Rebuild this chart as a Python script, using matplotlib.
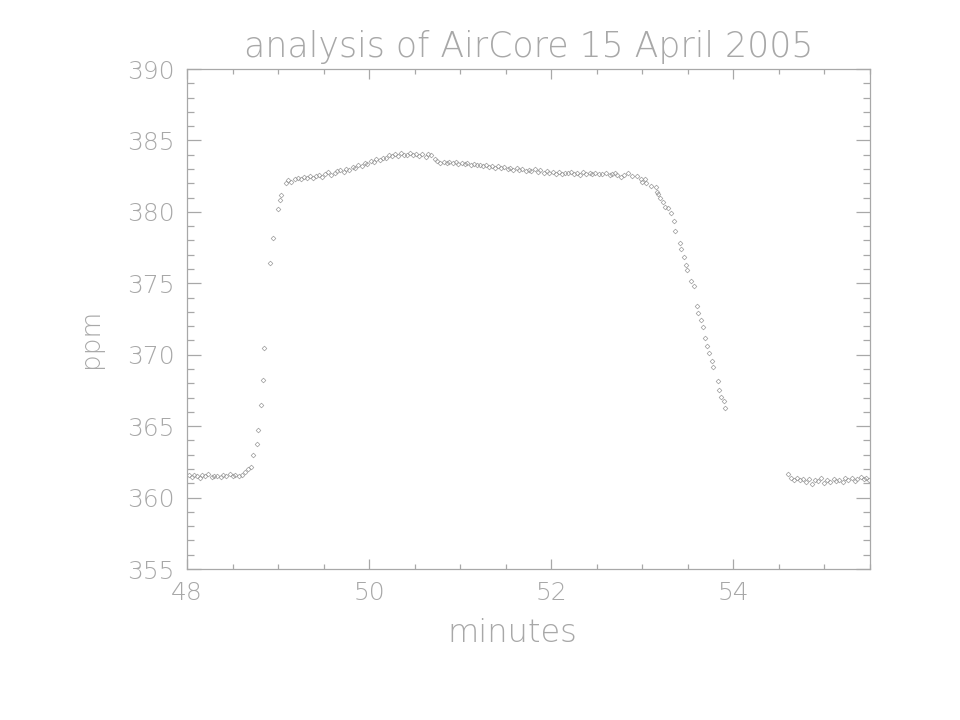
import matplotlib
matplotlib.use("Agg")
import matplotlib.pyplot as plt
from matplotlib.ticker import MultipleLocator

# ---- data (minutes, ppm) ----
base1_x = [48.02, 48.05, 48.08, 48.11, 48.14, 48.17, 48.20, 48.23, 48.27, 48.30,
           48.33, 48.37, 48.40, 48.43, 48.47, 48.50, 48.53, 48.57]
base1_y = [361.55, 361.42, 361.60, 361.48, 361.38, 361.55, 361.50, 361.62, 361.47, 361.52,
           361.50, 361.44, 361.56, 361.48, 361.62, 361.52, 361.58, 361.50]

rise_x = [48.600, 48.636, 48.665, 48.700, 48.727, 48.764, 48.781, 48.814, 48.830, 48.844,
          48.913, 48.946, 48.997, 49.016, 49.030, 49.082, 49.110, 49.147, 49.184, 49.220]
rise_y = [361.58, 361.77, 361.98, 362.16, 362.98, 363.75, 364.73, 366.48, 368.23, 370.45,
          376.44, 378.15, 380.18, 380.83, 381.18, 382.00, 382.23, 382.11, 382.30, 382.35]

plat_x = [49.25, 49.28, 49.32, 49.35, 49.38, 49.42, 49.45, 49.48, 49.52, 49.55,
          49.58, 49.62, 49.65, 49.68, 49.72, 49.75, 49.78, 49.82, 49.85, 49.88,
          49.92, 49.95, 49.98, 50.02, 50.05, 50.08, 50.12, 50.15, 50.18, 50.22,
          50.25, 50.28, 50.32, 50.35, 50.38, 50.42, 50.45, 50.48, 50.52, 50.55,
          50.58, 50.62, 50.65, 50.68, 50.72, 50.75, 50.78, 50.82, 50.85, 50.88,
          50.92, 50.95, 50.98, 51.02, 51.05, 51.08, 51.12, 51.15, 51.18, 51.22,
          51.25, 51.28, 51.32, 51.35, 51.38, 51.42, 51.45, 51.48, 51.52, 51.55,
          51.58, 51.62, 51.65, 51.68, 51.72, 51.75, 51.78, 51.82, 51.85, 51.88,
          51.92, 51.95, 51.98, 52.02, 52.05, 52.08, 52.12, 52.15, 52.18, 52.22,
          52.25, 52.28, 52.32, 52.35, 52.38, 52.42, 52.45, 52.48, 52.52]
plat_y = [382.30, 382.45, 382.38, 382.52, 382.40, 382.50, 382.58, 382.45, 382.62, 382.78,
          382.55, 382.70, 382.85, 382.92, 382.80, 383.00, 382.95, 383.15, 383.05, 383.25,
          383.20, 383.40, 383.35, 383.55, 383.50, 383.68, 383.62, 383.80, 383.75, 383.95,
          383.88, 384.05, 383.92, 384.10, 384.00, 383.95, 384.12, 383.98, 384.05, 383.90,
          384.08, 383.85, 384.02, 383.95, 383.70, 383.55, 383.45, 383.52, 383.40, 383.48,
          383.42, 383.50, 383.38, 383.45, 383.35, 383.40, 383.28, 383.35, 383.25, 383.30,
          383.20, 383.28, 383.15, 383.22, 383.10, 383.18, 383.05, 383.12, 383.00, 383.08,
          382.95, 383.10, 382.92, 383.02, 382.85, 382.95, 382.88, 382.98, 382.80, 382.90,
          382.75, 382.85, 382.70, 382.82, 382.68, 382.78, 382.62, 382.75, 382.70, 382.80,
          382.65, 382.72, 382.60, 382.78, 382.68, 382.75, 382.62, 382.70, 382.65]

fall_x = [52.56, 52.60, 52.64, 52.672, 52.70, 52.727, 52.764, 52.800, 52.847, 52.891,
          52.939, 52.983, 53.000, 53.030, 53.044, 53.099, 53.147, 53.165, 53.176, 53.195,
          53.231, 53.246, 53.282, 53.312, 53.345, 53.362, 53.410, 53.428, 53.461, 53.476,
          53.494, 53.531, 53.564, 53.597, 53.611, 53.644, 53.662, 53.691, 53.710, 53.728,
          53.761, 53.779, 53.827, 53.841, 53.860, 53.893, 53.910]
fall_y = [382.62, 382.70, 382.55, 382.65, 382.72, 382.58, 382.46, 382.58, 382.74, 382.53,
          382.51, 382.28, 382.07, 382.32, 381.99, 381.81, 381.72, 381.41, 381.25, 380.95,
          380.67, 380.32, 380.25, 379.90, 379.38, 378.64, 377.84, 377.40, 376.82, 376.28,
          375.93, 375.16, 374.81, 373.43, 372.92, 372.41, 371.94, 371.15, 370.63, 370.14,
          369.58, 369.16, 368.14, 367.51, 367.06, 366.78, 366.29]

base2_x = [54.60, 54.63, 54.66, 54.70, 54.73, 54.76, 54.80, 54.83, 54.86, 54.90,
           54.93, 54.96, 55.00, 55.03, 55.06, 55.10, 55.13, 55.16, 55.20, 55.23,
           55.26, 55.30, 55.33, 55.36, 55.40, 55.43, 55.46, 55.49]
base2_y = [361.63, 361.39, 361.23, 361.35, 361.20, 361.30, 361.10, 361.28, 360.95, 361.25,
           361.15, 361.35, 361.05, 361.20, 361.10, 361.30, 361.18, 361.25, 361.08, 361.35,
           361.22, 361.40, 361.18, 361.30, 361.45, 361.28, 361.38, 361.22]

title = "analysis of AirCore 15 April 2005"
xlabel = "minutes"
ylabel = "ppm"
xticks = [48, 50, 52, 54]
yticks = [355, 360, 365, 370, 375, 380, 385, 390]

GRAY = "#a8a8a8"
plt.rcParams['font.family'] = ['DejaVu Sans']

fig = plt.figure(figsize=(9.6, 7.2), dpi=100)
ax = fig.add_axes([187/960, 1 - 569/720, (870-187)/960, (569-69)/720])

for xs, ys in [(base1_x, base1_y), (rise_x, rise_y), (plat_x, plat_y),
               (fall_x, fall_y), (base2_x, base2_y)]:
    ax.plot(xs, ys, linestyle='none', marker='D', markersize=2.4,
            markerfacecolor='none', markeredgecolor='#9a9a9a', markeredgewidth=0.5)

ax.set_xlim(48, 55.5)
ax.set_ylim(355, 390)
ax.set_xticks(xticks)
ax.set_yticks(yticks)
ax.xaxis.set_minor_locator(MultipleLocator(0.5))
ax.yaxis.set_minor_locator(MultipleLocator(1))

for s in ax.spines.values():
    s.set_color(GRAY)
    s.set_linewidth(0.9)

ax.tick_params(axis='both', which='both', direction='in', top=True, right=True,
               color=GRAY, width=0.9, labelcolor=GRAY, labelsize=18)
ax.tick_params(axis='x', which='major', length=7.2, pad=9)
ax.tick_params(axis='x', which='minor', length=3.6)
ax.tick_params(axis='y', which='major', length=10, pad=9)
ax.tick_params(axis='y', which='minor', length=5)
for lbl in ax.get_xticklabels() + ax.get_yticklabels():
    lbl.set_fontweight('light')

ax.set_title(title, color=GRAY, fontsize=25, fontweight='light', pad=9)
ax.set_xlabel(xlabel, color=GRAY, fontsize=23, fontweight='light')
ax.set_ylabel(ylabel, color=GRAY, fontsize=19, fontweight='light')
ax.xaxis.set_label_coords(0.477, -0.098)
ax.yaxis.set_label_coords(-0.123, 0.462)

fig.savefig("out.png", dpi=100)
